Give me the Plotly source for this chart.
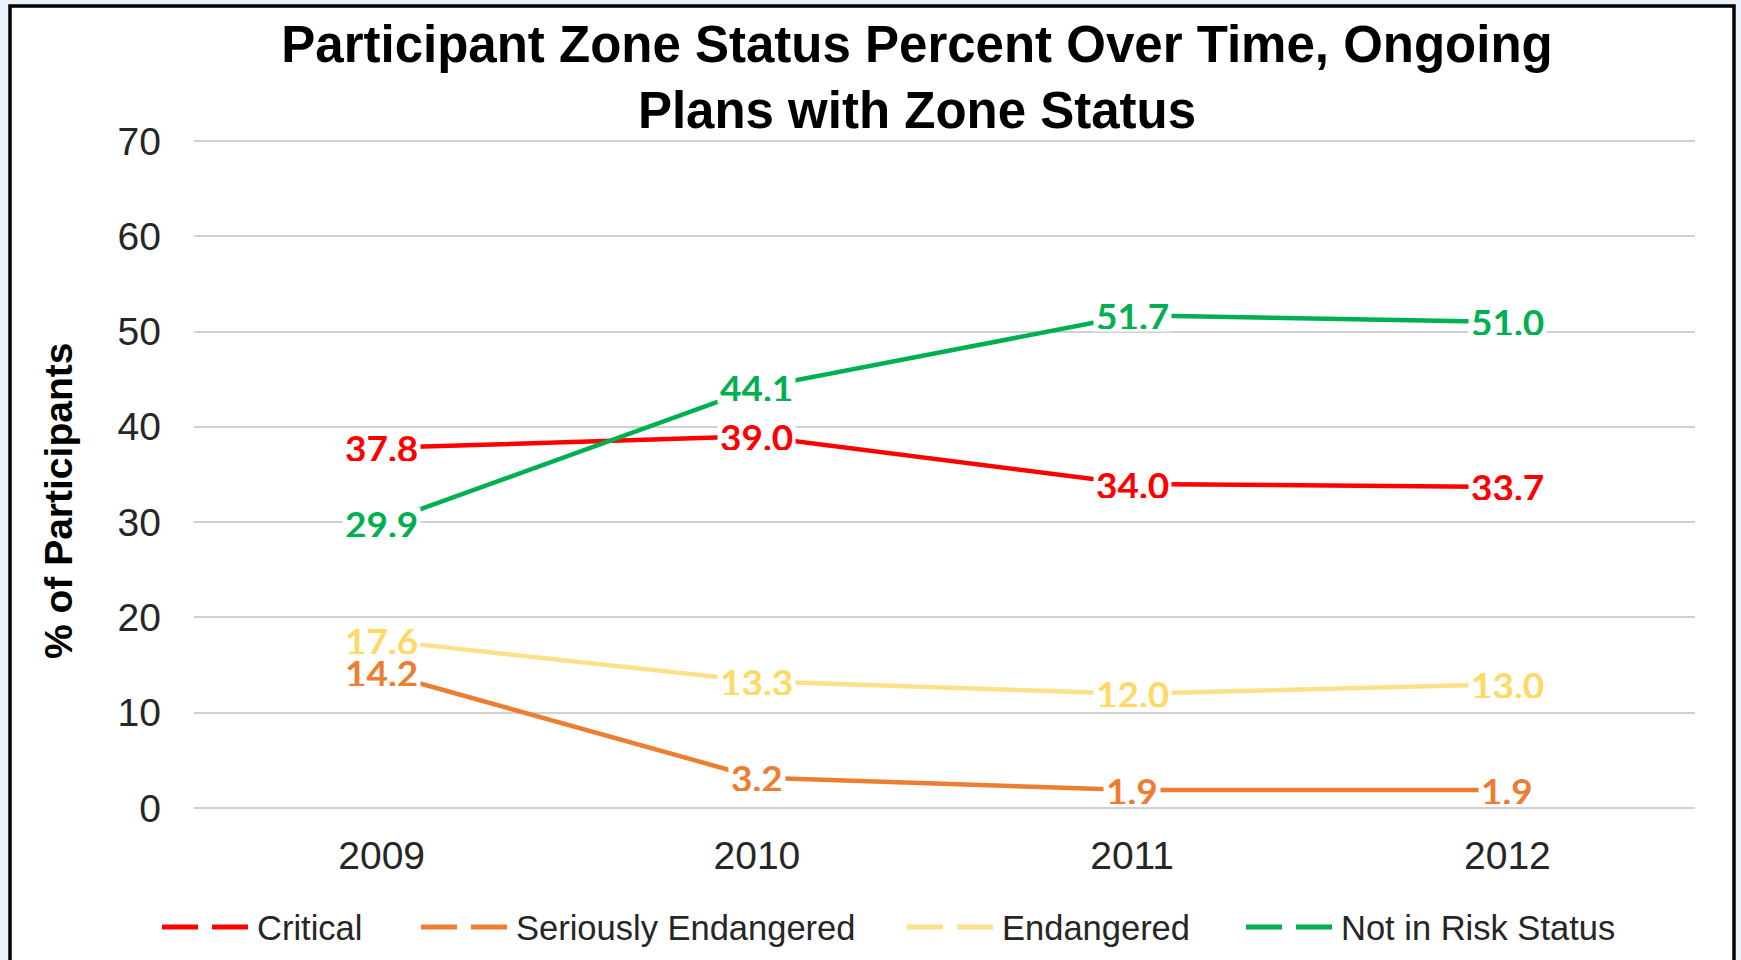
import plotly.graph_objects as go

years = ["2009", "2010", "2011", "2012"]
series_names = ["Critical", "Seriously Endangered", "Endangered", "Not in Risk Status"]
critical = [37.8, 39.0, 34.0, 33.7]
seriously_endangered = [14.2, 3.2, 1.9, 1.9]
endangered = [17.6, 13.3, 12.0, 13.0]
not_in_risk = [29.9, 44.1, 51.7, 51.0]
y_ticks = [0, 10, 20, 30, 40, 50, 60, 70]

values = [critical, seriously_endangered, endangered, not_in_risk]
line_colors = ["#FF0000", "#ED7D31", "#FFE08A", "#00B050"]
label_colors = ["#FF0000", "#ED7D31", "#FFD966", "#00B050"]
label_draw_order = [0, 2, 1, 3]  # seriously-endangered labels sit above endangered ones

W, H = 1741, 960
L, R, T, B = 194, 46, 138, 149
pw, ph = W - L - R, H - T - B


def px_to_paper_x(px):
    return (px - L) / pw


def px_to_paper_y(py):
    return (H - B - py) / ph


fig = go.Figure()

for name, vals, lc in zip(series_names, values, line_colors):
    fig.add_trace(go.Scatter(x=years, y=vals, mode="lines", name=name,
                             line=dict(color=lc, width=4.5), showlegend=False,
                             hoverinfo="skip"))

legend_ids = ["legend", "legend2", "legend3", "legend4"]
legend_starts = [163, 422, 908, 1247]  # pixel x of each legend symbol start
for name, lc, lid in zip(series_names, line_colors, legend_ids):
    fig.add_trace(go.Scatter(x=[None], y=[None], mode="lines", name=name,
                             line=dict(color=lc, width=5, dash="36px,14px"),
                             showlegend=True, legend=lid))

annotations = []
for k in label_draw_order:
    vals, tc = values[k], label_colors[k]
    for i, v in enumerate(vals):
        annotations.append(dict(x=i, y=v, xref="x", yref="y", text=f"{v:.1f}",
                                showarrow=False, bgcolor="white", borderpad=2,
                                height=27,
                                font=dict(family="Lato, Carlito, Open Sans, sans-serif",
                                          size=37, color=tc, weight="bold")))

annotations.append(dict(x=px_to_paper_x(58), y=px_to_paper_y(501), xref="paper", yref="paper",
                        text="% of Participants", textangle=-90, showarrow=False,
                        xanchor="center", yanchor="middle",
                        font=dict(family="Liberation Sans, Arial, sans-serif", size=39,
                                  color="black", weight="bold")))

shapes = [dict(type="rect", xref="paper", yref="paper", layer="below",
               x0=px_to_paper_x(10), x1=px_to_paper_x(1734),
               y0=px_to_paper_y(975), y1=px_to_paper_y(6),
               fillcolor="white", line=dict(color="black", width=3.5))]

legend_font = dict(family="Liberation Sans, Arial, sans-serif", size=34.5, color="#262626")
legend_layouts = {}
for lid, start in zip(legend_ids, legend_starts):
    legend_layouts[lid] = dict(orientation="h", xref="container", yref="container",
                               x=(start - 6) / W, xanchor="left",
                               y=1 - 927 / H, yanchor="middle", itemwidth=90,
                               bgcolor="rgba(0,0,0,0)", font=legend_font)

fig.update_layout(
    width=W, height=H,
    margin=dict(l=L, r=R, t=T, b=B),
    paper_bgcolor="#E9F2FA",
    plot_bgcolor="rgba(0,0,0,0)",
    title=dict(text="Participant Zone Status Percent Over Time, Ongoing<br>Plans with Zone Status",
               x=px_to_paper_x(917), xref="paper", xanchor="center",
               y=1 - 62 / H, yref="container", yanchor="middle",
               font=dict(family="Liberation Sans, Arial, sans-serif", size=51,
                         color="black", weight="bold")),
    xaxis=dict(type="category", range=[-0.5, 3.5], showgrid=False, zeroline=False,
               showline=False, ticks="", ticklabelstandoff=18, automargin=False,
               tickfont=dict(family="Liberation Sans, Arial, sans-serif", size=39, color="#262626")),
    yaxis=dict(range=[-0.3, 70.3], tickvals=y_ticks, showgrid=True, gridcolor="#D0D0D0",
               gridwidth=2, zeroline=False, showline=False, ticks="",
               ticklabelstandoff=32, automargin=False,
               tickfont=dict(family="Liberation Sans, Arial, sans-serif", size=39, color="#262626")),
    annotations=annotations,
    shapes=shapes,
    showlegend=True,
    **legend_layouts,
)

fig.write_html("out.html", config={"displayModeBar": False},
               post_script="document.body.style.margin='0';")
